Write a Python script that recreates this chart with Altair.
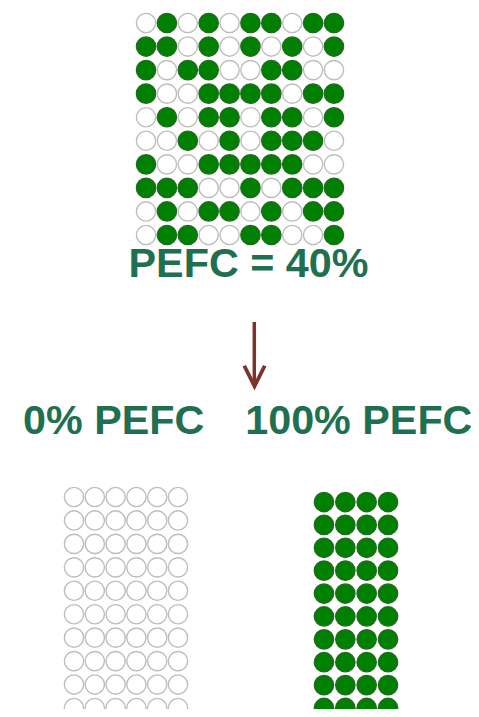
import altair as alt
import pandas as pd

# ---- data ----
# top grid: 1 = green (PEFC), 0 = empty
top_rows = [
    "0101011011",
    "1101010101",
    "1011001100",
    "1001111011",
    "0101101101",
    "0010101110",
    "1001111100",
    "1110010111",
    "0101101011",
    "0110011001",
]
left_rows = ["000000"] * 10    # 0% PEFC
right_rows = ["1111"] * 10     # 100% PEFC

title_text = ["PEFC = 40%"]
left_label = ["0% PEFC"]
right_label = ["100% PEFC"]

TXT = "#1F7050"
ARROW = "#7A3429"


def grid_df(rows):
    recs = []
    for r, s in enumerate(rows):
        for c, ch in enumerate(s):
            recs.append({"row": r, "col": c, "filled": int(ch)})
    return pd.DataFrame(recs)


fill_scale = alt.Scale(domain=[0, 1], range=["#FFFFFF", "#008000"])
stroke_scale = alt.Scale(domain=[0, 1], range=["#BEBEBE", "#1F6B1F"])


def grid_layer(rows, xr, yr, ncols):
    return alt.Chart(grid_df(rows)).mark_point(
        shape="circle", filled=True, size=372, strokeWidth=1.4, opacity=1
    ).encode(
        x=alt.X("col:Q", scale=alt.Scale(domain=[-0.5, ncols - 0.5], range=xr), axis=None),
        y=alt.Y("row:Q", scale=alt.Scale(domain=[-0.5, 9.5], range=yr), axis=None),
        fill=alt.Fill("filled:N", scale=fill_scale, legend=None),
        stroke=alt.Stroke("filled:N", scale=stroke_scale, legend=None),
    )


top = grid_layer(top_rows, [127.6, 336.4], [3.2, 238.8], 10)
left = grid_layer(left_rows, [55.6, 180.4], [477.3, 711.7], 6)
right = grid_layer(right_rows, [305.3, 390.7], [482.6, 711.4], 4)


def label(txt, x):
    return alt.Chart(pd.DataFrame({"t": txt})).mark_text(
        font="Liberation Sans", fontWeight="bold", fontSize=41.3,
        color=TXT, align="center", baseline="alphabetic"
    ).encode(text="t:N", x=alt.value(x[0]), y=alt.value(x[1]))


t_top = label(title_text, (240.5, 269.3))
t_left = label(left_label, (105.7, 426.3))
t_right = label(right_label, (350.8, 426.3))

shaft = alt.Chart(pd.DataFrame({"a": [0]})).mark_rule(
    color=ARROW, strokeWidth=3.5
).encode(x=alt.value(246.3), y=alt.value(314), y2=alt.value(376))

head = alt.Chart(pd.DataFrame({"a": [0]})).mark_point(
    shape="M -1 -1 L 0 1 L 1 -1", filled=False, size=420,
    stroke=ARROW, strokeWidth=3.8, opacity=1, strokeJoin="miter", strokeCap="butt"
).encode(x=alt.value(246.5), y=alt.value(368))

chart = alt.layer(
    top, left, right, t_top, t_left, t_right, shaft, head
).resolve_scale(
    x="independent", y="independent"
).properties(
    width=463, height=701, padding=0,
    autosize=alt.AutoSizeParams(type="none"),
    background="white",
).configure_view(strokeWidth=0)

chart.save("out.html", embed_options={"renderer": "svg", "actions": False})
